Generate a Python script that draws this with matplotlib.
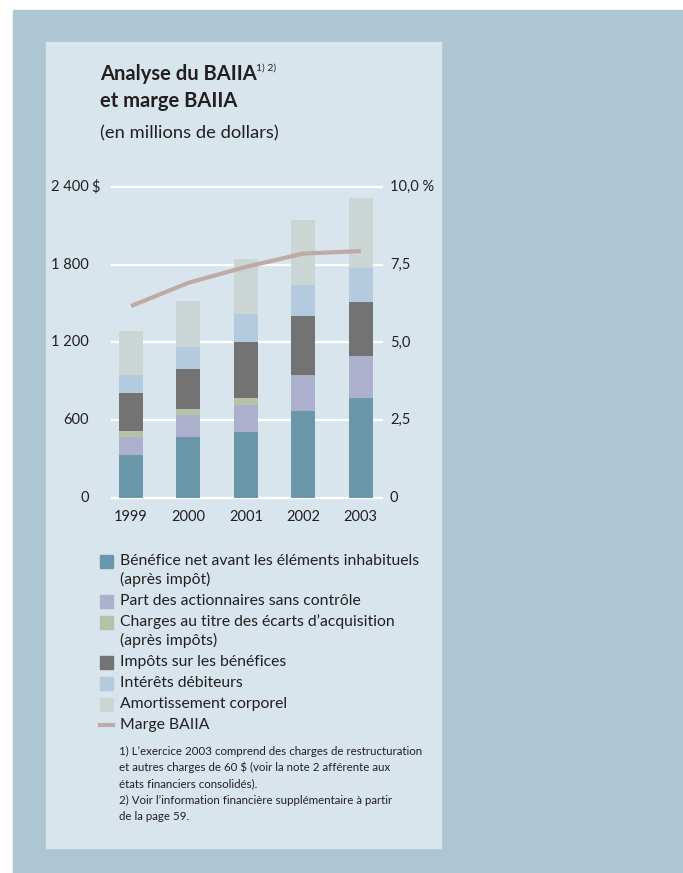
import matplotlib.pyplot as plt
from matplotlib.patches import Rectangle
from matplotlib.lines import Line2D
import numpy as np

plt.rcParams['font.family'] = ['Lato', 'DejaVu Sans']

years = ["1999", "2000", "2001", "2002", "2003"]
benefice = [334, 467, 511, 673, 773]
part_actionnaires = [138, 175, 205, 277, 323]
ecarts_acquisition = [47, 46, 57, 0, 0]
impots = [292, 308, 431, 454, 416]
interets = [139, 169, 216, 239, 264]
amortissement = [339, 355, 423, 500, 537]
marge = [6.17, 6.92, 7.43, 7.86, 7.94]

left_ticks = [0, 600, 1200, 1800, 2400]
left_labels = ["0", "600", "1 200", "1 800", "2 400"]
right_ticks = [0, 2.5, 5.0, 7.5, 10.0]
right_labels = ["0", "2,5", "5,0", "7,5", "10,0 %"]

series = [
    ("Bénéfice net avant les éléments inhabituels\n(après impôt)", benefice, "#6a98aa"),
    ("Part des actionnaires sans contrôle", part_actionnaires, "#adb0cc"),
    ("Charges au titre des écarts d’acquisition\n(après impôts)", ecarts_acquisition, "#b4c2a8"),
    ("Impôts sur les bénéfices", impots, "#737373"),
    ("Intérêts débiteurs", interets, "#b4cade"),
    ("Amortissement corporel", amortissement, "#cbd6d4"),
]
line_label = "Marge BAIIA"
line_color = "#bfaaa5"

footnotes = [
    "1) L’exercice 2003 comprend des charges de restructuration",
    "et autres charges de 60 $ (voir la note 2 afférente aux",
    "états financiers consolidés).",
    "2) Voir l’information financière supplémentaire à partir",
    "de la page 59.",
]

W, H = 683, 873
fig = plt.figure(figsize=(W / 100, H / 100), dpi=100, facecolor="white")
txt = "#231f20"


def fx(x):
    return x / W


def fy(y):
    return 1 - y / H


# background panels
fig.patches.append(Rectangle((fx(13), 0), fx(W - 13), fy(10), transform=fig.transFigure,
                             color="#aec5d3", zorder=-2))
fig.patches.append(Rectangle((fx(46), fy(848)), fx(441 - 46), (848 - 42) / H,
                             transform=fig.transFigure, color="#d8e5ed", zorder=-1))

# titles
fig.text(fx(100), fy(80), "Analyse du BAIIA", fontsize=14.5, fontweight="bold", color=txt)
fig.text(fx(256), fy(71), "1) 2)", fontsize=7.5, color=txt)
fig.text(fx(100), fy(107), "et marge BAIIA", fontsize=14.5, fontweight="bold", color=txt)
fig.text(fx(100), fy(138), "(en millions de dollars)", fontsize=13.2, color=txt)

# chart area
ax = fig.add_axes([fx(112), fy(498), fx(382 - 112), (498 - 187) / H])
ax.patch.set_alpha(0)
for s in ax.spines.values():
    s.set_visible(False)
x = np.arange(len(years))
bottom = np.zeros(len(years))
for label, vals, color in series:
    ax.bar(x, vals, width=0.42, bottom=bottom, color=color, zorder=3)
    bottom += np.array(vals)
ax.set_xlim(-0.33, 4.37)
ax.set_ylim(0, 2400)
ax.set_yticks(left_ticks)
ax.yaxis.grid(True, color="white", linewidth=1.6, zorder=0)
for gl in ax.get_ygridlines():
    gl.set_clip_on(False)
ax.set_axisbelow(True)
ax.tick_params(length=0, labelleft=False, labelbottom=False)
ax.set_xticks([])

for t, lab in zip(left_ticks, left_labels):
    ax.text(-0.33 - 23 / 57.5, t, lab, ha="right", va="center", fontsize=10.5, color=txt)
ax.text(-0.33 - 21 / 57.5, 2400, "$", ha="left", va="center", fontsize=10.5, color=txt)

for i, yr in enumerate(years):
    ax.text(i, -95, yr, ha="center", va="top", fontsize=10.5, color=txt)

ax2 = ax.twinx()
ax2.set_ylim(0, 10)
ax2.set_xlim(-0.33, 4.37)
for s in ax2.spines.values():
    s.set_visible(False)
ax2.tick_params(length=0, labelright=False)
ax2.set_yticks([])
ax2.plot(x, marge, color=line_color, linewidth=3, solid_capstyle="butt", zorder=5)
for t, lab in zip(right_ticks, right_labels):
    ax2.text(4.37 + 8 / 57.5, t, lab, ha="left", va="center", fontsize=10.5, color=txt)

# legend
rows = [561, 601, 622, 662, 683, 704]
for (label, vals, color), ry in zip(series, rows):
    fig.patches.append(Rectangle((fx(100), fy(ry + 6.5)), fx(13), 13 / H,
                                 transform=fig.transFigure, color=color))
    for k, ln in enumerate(label.split("\n")):
        fig.text(fx(120), fy(ry + 18 * k), ln, ha="left", va="center",
                 fontsize=11.3, color=txt)
fig.lines.append(Line2D([fx(100), fx(113)], [fy(725), fy(725)], transform=fig.transFigure,
                        color=line_color, linewidth=3))
fig.text(fx(120), fy(725), line_label, ha="left", va="center", fontsize=11.3, color=txt)

for k, ln in enumerate(footnotes):
    fig.text(fx(119), fy(751 + 16.5 * k), ln, ha="left", va="center", fontsize=8.3, color=txt)

fig.savefig("out.png", dpi=100, facecolor="white")
